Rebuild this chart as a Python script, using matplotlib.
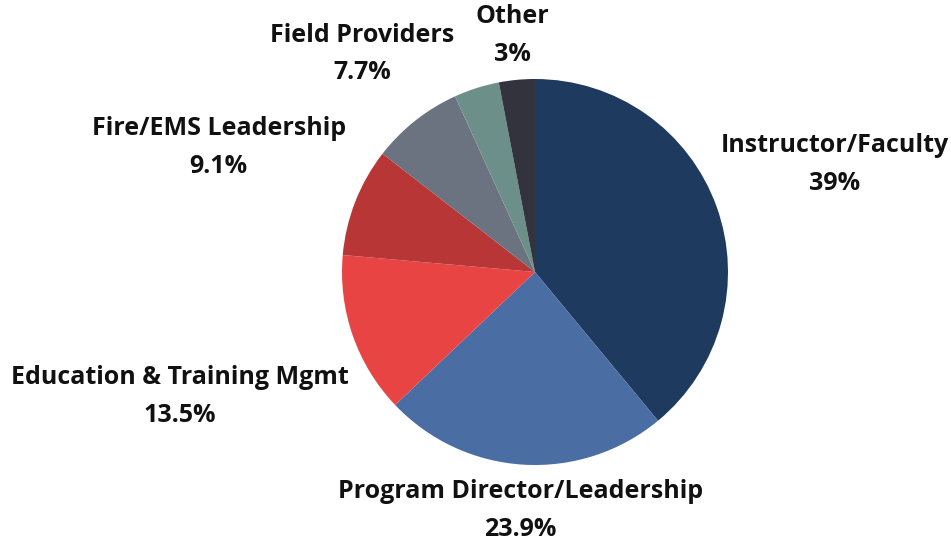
import numpy as np
from matplotlib import pyplot as plt

labels = ["Instructor/Faculty", "Program Director/Leadership", "Education & Training Mgmt",
          "Fire/EMS Leadership", "Field Providers", "", "Other"]
values = [39, 23.9, 13.5, 9.1, 7.7, 3.8, 3]
pct_text = ["39%", "23.9%", "13.5%", "9.1%", "7.7%", "", "3%"]
colors = ["#1f3a5f", "#4a6da3", "#e84444", "#b83636", "#6b7280", "#6d8f8a", "#32333c"]
label_r = [1.65, 1.24, 1.95, 1.76, 1.44, 0, 1.23]

fig = plt.figure(figsize=(9.51, 5.46), dpi=100)
ax = fig.add_axes([0, 0, 1, 1])
wedges, _ = ax.pie(values, colors=colors, startangle=90, counterclock=False,
                   radius=1, wedgeprops=dict(linewidth=0))

for w, lab, pct, r in zip(wedges, labels, pct_text, label_r):
    if not lab:
        continue
    mid = np.deg2rad((w.theta1 + w.theta2) / 2)
    x, y = r * np.cos(mid), r * np.sin(mid)
    ax.text(x, y, lab + "\n" + pct, ha="center", va="center", fontsize=18,
            fontweight="bold", family="Open Sans", linespacing=1.68, color="#111111")

ax.set_xlim(-535 / 193, (951 - 535) / 193)
ax.set_ylim(-(546 - 272) / 193, 272 / 193)
ax.set_aspect("equal")
ax.axis("off")
fig.savefig("out.png", dpi=100)
